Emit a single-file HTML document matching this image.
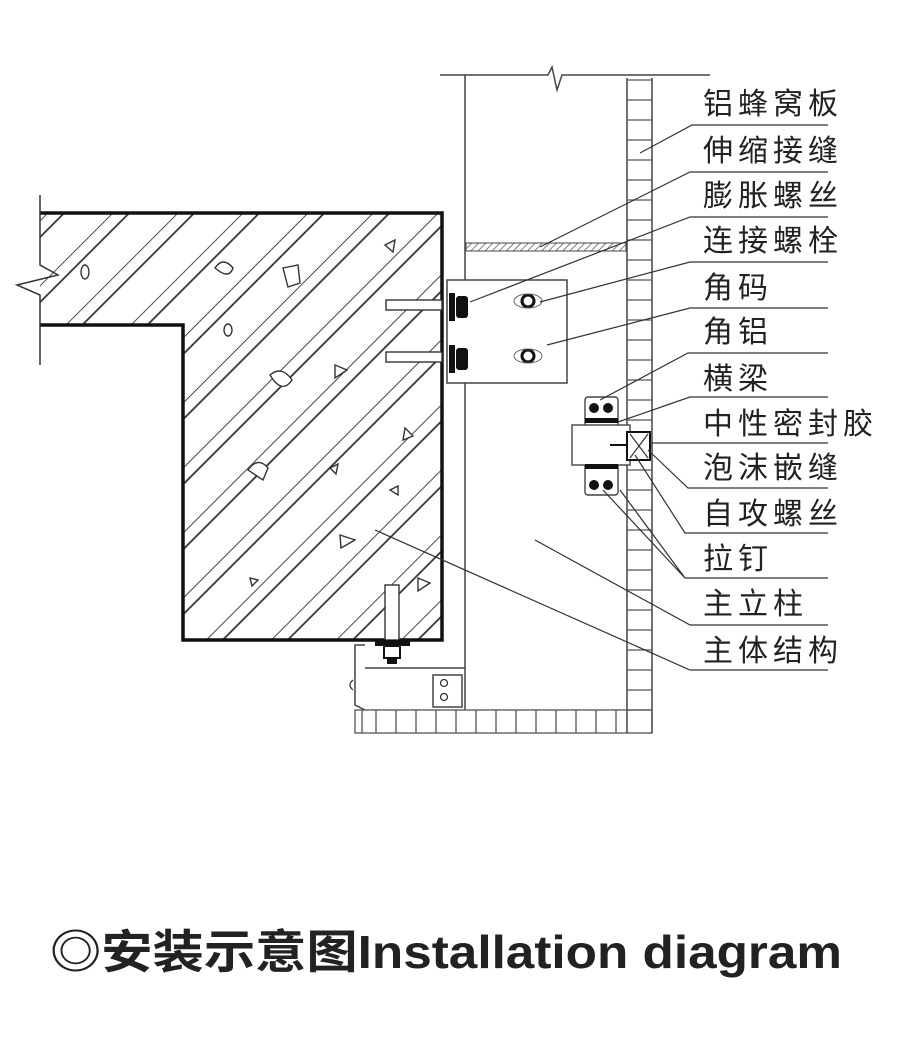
<!DOCTYPE html>
<html><head><meta charset="utf-8"><style>
html,body{margin:0;padding:0;background:#fff;}
svg{display:block;}
.l{font-family:"Liberation Sans","Noto Sans CJK SC",sans-serif;font-size:30px;fill:#222;letter-spacing:5px;}
</style></head><body>
<svg width="900" height="1038" viewBox="0 0 900 1038" xmlns="http://www.w3.org/2000/svg">
<defs>
<pattern id="h" patternUnits="userSpaceOnUse" width="46" height="46" patternTransform="rotate(45)">
<line x1="0" y1="0" x2="0" y2="46" stroke="#333" stroke-width="1.8"/>
<line x1="12" y1="0" x2="12" y2="46" stroke="#333" stroke-width="1.8"/>
</pattern>
<pattern id="sh" patternUnits="userSpaceOnUse" width="5" height="5" patternTransform="rotate(45)">
<line x1="0" y1="0" x2="0" y2="5" stroke="#555" stroke-width="1.5"/>
</pattern>
</defs>
<g fill="none" stroke="#444" stroke-width="1.5">
<path d="M440 75 H548 L552 67 L557 90 L562 75 H710"/>
<line x1="465" y1="75" x2="465" y2="710"/>
<line x1="627" y1="78" x2="627" y2="733"/>
<line x1="652" y1="78" x2="652" y2="733"/>
</g>
<g stroke="#555" stroke-width="1.3">
<line x1="627" y1="80" x2="652" y2="80"/><line x1="627" y1="100" x2="652" y2="100"/><line x1="627" y1="120" x2="652" y2="120"/><line x1="627" y1="140" x2="652" y2="140"/><line x1="627" y1="160" x2="652" y2="160"/><line x1="627" y1="180" x2="652" y2="180"/><line x1="627" y1="200" x2="652" y2="200"/><line x1="627" y1="220" x2="652" y2="220"/><line x1="627" y1="240" x2="652" y2="240"/><line x1="627" y1="260" x2="652" y2="260"/><line x1="627" y1="280" x2="652" y2="280"/><line x1="627" y1="300" x2="652" y2="300"/><line x1="627" y1="320" x2="652" y2="320"/><line x1="627" y1="340" x2="652" y2="340"/><line x1="627" y1="360" x2="652" y2="360"/><line x1="627" y1="380" x2="652" y2="380"/><line x1="627" y1="400" x2="652" y2="400"/><line x1="627" y1="420" x2="652" y2="420"/><line x1="627" y1="470" x2="652" y2="470"/><line x1="627" y1="490" x2="652" y2="490"/><line x1="627" y1="510" x2="652" y2="510"/><line x1="627" y1="530" x2="652" y2="530"/><line x1="627" y1="550" x2="652" y2="550"/><line x1="627" y1="570" x2="652" y2="570"/><line x1="627" y1="590" x2="652" y2="590"/><line x1="627" y1="610" x2="652" y2="610"/><line x1="627" y1="630" x2="652" y2="630"/><line x1="627" y1="650" x2="652" y2="650"/><line x1="627" y1="670" x2="652" y2="670"/><line x1="627" y1="690" x2="652" y2="690"/><line x1="627" y1="710" x2="652" y2="710"/>
</g>
<g fill="none" stroke="#555" stroke-width="1.3">
<rect x="355" y="710" width="297" height="23"/>
<path d="M362 710V733M376 710V733M396 710V733M416 710V733M436 710V733M456 710V733M476 710V733M496 710V733M516 710V733M536 710V733M556 710V733M576 710V733M596 710V733M616 710V733"/>
</g>
<path d="M40 213 H442 V640 H183 V325 H40 Z" fill="url(#h)"/>
<path d="M40 213 H442 V640 H183 V325 H40" fill="none" stroke="#111" stroke-width="3.5"/>
<path d="M40 195 V265 L58 275 L17 285 L40 295 V365" fill="none" stroke="#333" stroke-width="1.5"/>
<g fill="#fff" stroke="#333" stroke-width="1.4">
<ellipse cx="85" cy="272" rx="4" ry="7"/>
<path d="M215 268 q8 -12 18 0 q-4 12 -18 0z"/>
<path d="M283 268 l15 -3 l2 18 l-12 4z"/>
<path d="M385 245 l10 -5 l-2 12z"/>
<ellipse cx="228" cy="330" rx="4" ry="6"/>
<path d="M335 365 l12 5 l-12 8z"/>
<path d="M270 375 q12 -10 22 5 q-10 15 -22 -5z"/>
<path d="M405 428 l8 8 l-10 4z"/>
<path d="M248 470 q10 -14 20 -2 l-5 12z"/>
<path d="M330 468 l8 -4 l-2 10z"/>
<path d="M390 490 l8 -4 l0 9z"/>
<path d="M340 535 l15 5 l-14 8z"/>
<path d="M250 578 l8 2 l-6 6z"/>
<path d="M418 578 l12 5 l-12 8z"/>
</g>
<rect x="466" y="243" width="160" height="8" fill="url(#sh)" stroke="#444" stroke-width="1"/>
<rect x="447" y="280" width="120" height="103" fill="#fff" stroke="#444" stroke-width="1.5"/>
<g fill="#fff" stroke="#333" stroke-width="1.4">
<rect x="386" y="300" width="56" height="10"/><rect x="386" y="352" width="56" height="10"/>
</g>
<g fill="#111">
<rect x="449" y="293" width="6" height="28"/><rect x="456" y="296" width="12" height="22" rx="3"/>
<rect x="449" y="345" width="6" height="28"/><rect x="456" y="348" width="12" height="22" rx="3"/>
</g>
<g fill="#fff" stroke="#111" stroke-width="3">
<circle cx="528" cy="301" r="6"/><circle cx="528" cy="356" r="6"/>
</g>
<g fill="none" stroke="#666" stroke-width="1">
<ellipse cx="528" cy="301" rx="14" ry="7"/><ellipse cx="528" cy="356" rx="14" ry="7"/>
</g>
<g fill="#fff" stroke="#444" stroke-width="1.4">
<rect x="585" y="397" width="33" height="98" rx="3"/>
<rect x="572" y="425" width="58" height="40"/>
<rect x="627" y="432" width="23" height="28" stroke="#111" stroke-width="2"/>
</g>
<path d="M630 434 L648 458 M648 434 L630 458" stroke="#333" stroke-width="1.2"/>
<line x1="610" y1="445" x2="627" y2="445" stroke="#111" stroke-width="2"/>
<rect x="585" y="418" width="33" height="5" fill="#111"/>
<rect x="585" y="464" width="33" height="5" fill="#111"/>
<g fill="#111"><circle cx="594" cy="408" r="5"/><circle cx="608" cy="408" r="5"/><circle cx="594" cy="485" r="5"/><circle cx="608" cy="485" r="5"/></g>
<g fill="none" stroke="#444" stroke-width="1.5">
<path d="M365 645 H355 V705 L365 710"/>
<path d="M365 668 H465"/>
<rect x="433" y="675" width="29" height="32" fill="#fff"/>
</g>
<rect x="385" y="585" width="14" height="55" fill="#fff" stroke="#333" stroke-width="1.4"/>
<rect x="375" y="640" width="35" height="6" fill="#111"/>
<rect x="384" y="646" width="16" height="12" fill="#fff" stroke="#111" stroke-width="2"/>
<rect x="387" y="658" width="10" height="6" fill="#111"/>
<g fill="none" stroke="#333" stroke-width="1.3"><circle cx="444" cy="683" r="3.5"/><circle cx="444" cy="697" r="3.5"/><path d="M353 680 q-6 5 0 10"/></g>
<g stroke="#333" stroke-width="1.2" fill="none">
<path d="M828 125 H692 L640 153"/>
<path d="M828 172 H690 L540 247"/>
<path d="M828 217 H690 L470 302"/>
<path d="M828 262 H690 L540 302"/>
<path d="M828 308 H690 L547 345"/>
<path d="M828 353 H688 L600 400"/>
<path d="M828 397 H690 L618 422"/>
<path d="M828 443 H650"/>
<path d="M828 488 H688 L648 450"/>
<path d="M828 533 H685 L635 455"/>
<path d="M828 578 H685 L603 490 M685 578 L620 490"/>
<path d="M828 625 H690 L535 540"/>
<path d="M828 670 H690 L375 530"/>
</g>
<g class="l">
<text x="703" y="114">铝蜂窝板</text>
<text x="703" y="161">伸缩接缝</text>
<text x="703" y="206">膨胀螺丝</text>
<text x="703" y="251">连接螺栓</text>
<text x="703" y="298">角码</text>
<text x="703" y="342">角铝</text>
<text x="703" y="389">横梁</text>
<text x="703" y="434">中性密封胶</text>
<text x="703" y="478">泡沫嵌缝</text>
<text x="703" y="524">自攻螺丝</text>
<text x="703" y="569">拉钉</text>
<text x="703" y="614">主立柱</text>
<text x="703" y="661">主体结构</text>
</g>
<text x="50" y="968" font-family="Liberation Sans, Noto Sans CJK SC, sans-serif" font-weight="bold" font-size="46" fill="#222" textLength="792" lengthAdjust="spacingAndGlyphs">◎安装示意图Installation diagram</text>
</svg>
</body></html>
